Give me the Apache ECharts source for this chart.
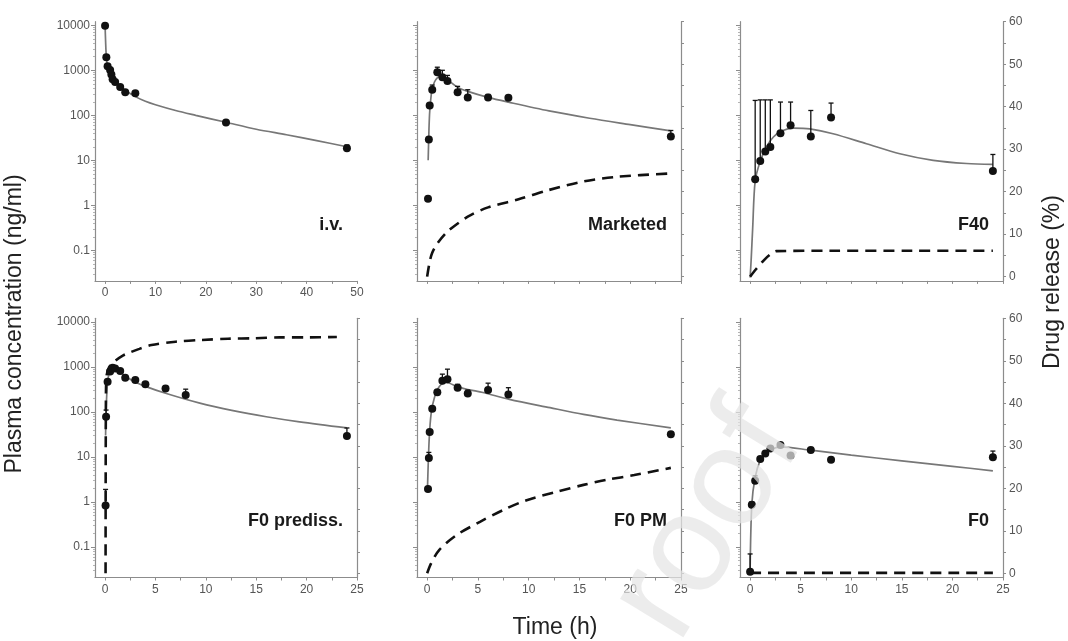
<!DOCTYPE html>
<html>
<head>
<meta charset="utf-8">
<script src="https://cdn.jsdelivr.net/npm/echarts@6/dist/echarts.min.js"></script>
<style>
  html, body { margin: 0; padding: 0; background: #fff; }
  #chart { width: 1068px; height: 641px; }
</style>
</head>
<body>
<div id="chart"></div>
<script>
/*eslint-disable*/
// ---- data ----
const panelNames = ['i.v.', 'Marketed', 'F40', 'F0 prediss.', 'F0 PM', 'F0'];

// i.v.
const ivTime = [0, 0.25, 0.5, 1, 1.25, 1.5, 2, 3, 4, 6, 24, 48];
const ivConc = [9800, 1950, 1230, 1020, 810, 630, 550, 425, 325, 310, 69, 18.6];
const ivUpper = [null, null, null, null, null, null, null, null, null, null, 74, 22];
const ivFitTime = [0, 0.1, 0.25, 0.5, 1, 1.5, 2, 3, 4, 6, 8, 10, 14, 18, 24, 30, 36, 42, 48];
const ivFitConc = [10000, 4500, 2000, 1250, 1000, 740, 600, 450, 360, 260, 205, 172, 128, 100, 70, 49, 37, 27.5, 20];

// Marketed
const mkTime = [0.083, 0.167, 0.25, 0.5, 1, 1.5, 2, 3, 4, 6, 8, 24];
const mkConc = [1.4, 29, 166, 370, 910, 700, 575, 325, 250, 250, 245, 34];
const mkUpper = [null, null, null, 470, 1170, 1000, 770, 440, 370, 290, null, 46];
const mkFitTime = [0.1, 0.18, 0.26, 0.46, 0.72, 1, 1.3, 1.7, 2, 3, 4, 6, 8, 12, 16, 20, 24];
const mkFitConc = [10, 50, 128, 355, 550, 680, 740, 690, 620, 420, 340, 250, 196, 125, 86, 62, 45];
const mkRelTime = [0, 0.25, 0.5, 1, 2, 4, 6, 9, 12, 15.4, 18.7, 24];
const mkRelPct = [0, 3.5, 5.6, 7.8, 10.6, 14.1, 16.3, 18.2, 20.4, 22.4, 23.5, 24.3];

// F40
const f40Time = [0.5, 1, 1.5, 2, 3, 4, 6, 8, 24];
const f40Conc = [3.8, 9.7, 15.8, 19.7, 40, 60, 34, 89, 5.8];
const f40Upper = [214, 220, 220, 220, 197, 197, 128, 187, 13.5];
const f40FitTime = [0, 0.1, 0.25, 0.5, 1, 1.6, 2.3, 3.1, 4.3, 5.9, 8.2, 11.5, 14.8, 18.1, 21.4, 24];
const f40FitConc = [0.025, 0.06, 0.3, 3.5, 9.5, 19.7, 33, 45, 52, 50, 39, 23.4, 14, 10, 8.5, 8.1];
const f40RelTime = [0, 0.6, 1.5, 2.1, 2.6, 8, 16, 24];
const f40RelPct = [0, 1.8, 4.2, 5.4, 6.0, 6.1, 6.1, 6.1];

// F0 prediss.
const fpTime = [0.05, 0.1, 0.25, 0.5, 0.75, 1, 1.5, 2, 3, 4, 6, 8, 24];
const fpConc = [0.83, 78, 470, 790, 960, 920, 810, 575, 510, 410, 330, 236, 29];
const fpUpper = [1.9, 110, null, null, null, null, null, null, null, null, 380, 320, 44];
const fpFitTime = [0.05, 0.1, 0.2, 0.3, 0.5, 0.8, 1.2, 2, 2.8, 4, 6, 9.4, 12.7, 16, 19.3, 24];
const fpFitConc = [30, 100, 330, 560, 800, 920, 850, 630, 480, 370, 260, 157, 107, 78, 60, 44];
const fpRelTime = [0.05, 0.08, 0.15, 0.4, 1, 1.8, 2.3, 3.4, 4.6, 7, 9.6, 12.2, 14.8, 17.3, 20, 23];
const fpRelPct = [0, 40, 46.5, 48.5, 50, 51.3, 51.8, 52.8, 53.7, 54.5, 54.9, 55.2, 55.3, 55.5, 55.5, 55.6];

// F0 PM
const pmTime = [0.083, 0.167, 0.25, 0.5, 1, 1.5, 2, 3, 4, 6, 8, 24];
const pmConc = [1.95, 9.5, 36, 118, 275, 490, 530, 345, 255, 305, 245, 32];
const pmUpper = [null, 12.6, null, null, null, 690, 890, 410, 305, 435, 345, null];
const pmFitTime = [0.03, 0.2, 0.4, 0.72, 1.2, 1.85, 3, 4, 5.5, 8.1, 12.1, 15.4, 18.7, 24];
const pmFitConc = [1.9, 24.6, 95, 210, 365, 450, 365, 315, 270, 190, 124, 88, 66, 44];
const pmRelTime = [0, 0.4, 1.2, 2.9, 5.2, 7.5, 9.8, 12.8, 15.4, 17.7, 20.4, 24];
const pmRelPct = [0, 2.4, 5.5, 9.0, 12.1, 14.9, 17.2, 19.2, 20.8, 22, 23.1, 24.8];

// F0
const f0Time = [0, 0.167, 0.5, 1, 1.5, 2, 3, 4, 6, 8, 24];
const f0Conc = [0.028, 0.87, 2.95, 9, 11.9, 15.4, 18.3, 10.7, 14.2, 8.7, 9.8];
const f0Upper = [0.07, 1.0, 3.8, null, null, null, null, null, null, null, 13.5];
const f0FitTime = [0, 0.17, 0.5, 1, 1.5, 2, 3, 6, 10, 15, 20, 24];
const f0FitConc = [0.03, 0.9, 3.5, 8.5, 12, 14.5, 16.8, 14.1, 11, 8.2, 6.2, 4.9];
const f0RelTime = [0, 24];
const f0RelPct = [0.1, 0.1];

// ticks
const concLabels = [0.1, 1, 10, 100, 1000, 10000];
const releaseTicks = [0, 5, 10, 15, 20, 25, 30, 35, 40, 45, 50, 55, 60];
const releaseLabels = [0, 10, 20, 30, 40, 50, 60];
const time50Ticks = [0, 5, 10, 15, 20, 25, 30, 35, 40, 45, 50];
const time50Labels = [0, 10, 20, 30, 40, 50];
const time25Ticks = [0, 2.5, 5, 7.5, 10, 12.5, 15, 17.5, 20, 22.5, 25];
const time25Labels = [0, 5, 10, 15, 20, 25];
const concMinorTicks = [];
[0.01, 0.1, 1, 10, 100, 1000].forEach(function (d) {
  for (let k = 2; k <= 9; k++) concMinorTicks.push(+(d * k).toPrecision(3));
});

// ---- layout ----
const FONT = '"Liberation Sans", Arial, Helvetica, sans-serif';
const AXIS_COLOR = '#8c8c8c';
const LABEL_COLOR = '#555';
const colLeft = [95, 417, 740];
const colWidth = [262, 264, 263];
const rowTop = [21.7, 318.3];
const rowHeight = 259.2;
const concMin = 0.021, concMax = 12000;

const panels = [
  { t: ivTime, c: ivConc, u: ivUpper, ft: ivFitTime, fc: ivFitConc, rt: null, rp: null, xmax: 50 },
  { t: mkTime, c: mkConc, u: mkUpper, ft: mkFitTime, fc: mkFitConc, rt: mkRelTime, rp: mkRelPct, xmax: 25 },
  { t: f40Time, c: f40Conc, u: f40Upper, ft: f40FitTime, fc: f40FitConc, rt: f40RelTime, rp: f40RelPct, xmax: 25 },
  { t: fpTime, c: fpConc, u: fpUpper, ft: fpFitTime, fc: fpFitConc, rt: fpRelTime, rp: fpRelPct, xmax: 25 },
  { t: pmTime, c: pmConc, u: pmUpper, ft: pmFitTime, fc: pmFitConc, rt: pmRelTime, rp: pmRelPct, xmax: 25 },
  { t: f0Time, c: f0Conc, u: f0Upper, ft: f0FitTime, fc: f0FitConc, rt: f0RelTime, rp: f0RelPct, xmax: 25 }
];

function zip(a, b) { return a.map(function (v, i) { return [v, b[i]]; }); }

const myChart = echarts.init(document.getElementById('chart'));

const grids = [], xAxes = [], yAxes = [], series = [], graphics = [];

panels.forEach(function (p, i) {
  const row = Math.floor(i / 3), col = i % 3;
  grids.push({ left: colLeft[col], top: rowTop[row], width: colWidth[col], height: rowHeight });

  const wide = p.xmax === 50;
  const showX = row === 1 || i === 0;
  xAxes.push({
    type: 'value', gridIndex: i, min: wide ? -2 : -1, max: p.xmax,
    axisLine: { onZero: false, lineStyle: { color: AXIS_COLOR, width: 1.2 } },
    axisTick: { length: 3, customValues: wide ? time50Ticks : time25Ticks, lineStyle: { color: AXIS_COLOR } },
    axisLabel: { show: showX, customValues: wide ? time50Labels : time25Labels,
      fontFamily: FONT, fontSize: 12, color: LABEL_COLOR, margin: 6 },
    splitLine: { show: false }
  });

  const logIdx = yAxes.length;
  yAxes.push({
    type: 'log', logBase: 10, gridIndex: i, position: 'left', min: concMin, max: concMax,
    axisLine: { show: true, onZero: false, lineStyle: { color: AXIS_COLOR, width: 1.2 } },
    axisTick: { show: true, length: 4, customValues: concLabels, lineStyle: { color: AXIS_COLOR } },
    axisLabel: { show: col === 0, customValues: concLabels, formatter: function (v) { return String(v); },
      fontFamily: FONT, fontSize: 12, color: LABEL_COLOR, margin: 5 },
    splitLine: { show: false }
  });
  yAxes.push({
    type: 'log', logBase: 10, gridIndex: i, position: 'left', min: concMin, max: concMax,
    axisLine: { show: false, onZero: false },
    axisTick: { show: true, length: 2, customValues: concMinorTicks, lineStyle: { color: '#b4b4b4' } },
    axisLabel: { show: false },
    splitLine: { show: false }
  });

  let relIdx = -1;
  if (p.rt) {
    relIdx = yAxes.length;
    yAxes.push({
      type: 'value', gridIndex: i, position: 'right', min: -1, max: 60,
      axisLine: { show: true, onZero: false, lineStyle: { color: AXIS_COLOR, width: 1.2 } },
      axisTick: { show: true, length: 3, customValues: releaseTicks, lineStyle: { color: AXIS_COLOR } },
      axisLabel: { show: col === 2, customValues: releaseLabels,
        fontFamily: FONT, fontSize: 12, color: LABEL_COLOR, margin: 6 },
      splitLine: { show: false }
    });
  }

  series.push({
    type: 'line', xAxisIndex: i, yAxisIndex: logIdx, data: zip(p.ft, p.fc),
    showSymbol: false, smooth: 0.3,
    lineStyle: { color: '#777', width: 1.7 }, z: 2, silent: true
  });
  if (p.rt) {
    series.push({
      type: 'line', xAxisIndex: i, yAxisIndex: relIdx, data: zip(p.rt, p.rp),
      showSymbol: false, smooth: 0.3,
      lineStyle: { color: '#111', width: 2.6, type: [11, 7] }, z: 3, silent: true
    });
  }
  const bars = [];
  p.t.forEach(function (t, k) { if (p.u[k] != null) bars.push([t, p.c[k], p.u[k]]); });
  series.push({
    type: 'custom', xAxisIndex: i, yAxisIndex: logIdx, data: bars, z: 4, silent: true,
    renderItem: function (params, api) {
      const a = api.coord([api.value(0), api.value(1)]);
      const b = api.coord([api.value(0), api.value(2)]);
      const st = { stroke: '#111', lineWidth: 1.3 };
      return { type: 'group', children: [
        { type: 'line', shape: { x1: a[0], y1: a[1], x2: b[0], y2: b[1] }, style: st },
        { type: 'line', shape: { x1: b[0] - 2.5, y1: b[1], x2: b[0] + 2.5, y2: b[1] }, style: st }
      ] };
    }
  });
  series.push({
    type: 'scatter', xAxisIndex: i, yAxisIndex: logIdx, data: zip(p.t, p.c),
    symbolSize: 8, itemStyle: { color: '#111', opacity: 1 }, z: 5, silent: true
  });

  graphics.push({
    type: 'text', right: 1068 - (colLeft[col] + colWidth[col] - 14), top: row === 0 ? 216 : 512,
    style: { text: panelNames[i], font: 'bold 18px ' + FONT, fill: '#1a1a1a' }
  });
});

graphics.push(
  { type: 'text', x: 15, y: 324, rotation: Math.PI / 2,
    style: { text: 'Plasma concentration (ng/ml)', font: '23px ' + FONT, fill: '#222', textAlign: 'center', textVerticalAlign: 'middle' } },
  { type: 'text', x: 1053, y: 282, rotation: Math.PI / 2,
    style: { text: 'Drug release (%)', font: '23px ' + FONT, fill: '#222', textAlign: 'center', textVerticalAlign: 'middle' } },
  { type: 'text', x: 555, y: 628,
    style: { text: 'Time (h)', font: '23px ' + FONT, fill: '#222', textAlign: 'center', textVerticalAlign: 'middle' } },
  { type: 'text', x: 705, y: 662, rotation: 1.02, z: 100,
    style: { text: 'roof', font: '140px ' + FONT, fill: 'rgba(228,228,228,0.72)', textAlign: 'left', textVerticalAlign: 'bottom' } }
);

myChart.setOption({
  animation: false,
  backgroundColor: '#fff',
  grid: grids,
  xAxis: xAxes,
  yAxis: yAxes,
  series: series,
  graphic: graphics
});
</script>
</body>
</html>
